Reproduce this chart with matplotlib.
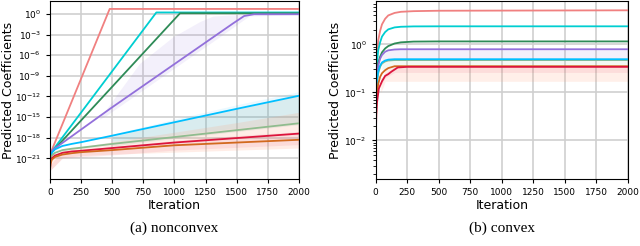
import matplotlib
matplotlib.use("Agg")
import matplotlib.pyplot as plt
import numpy as np

# ---- (a) nonconvex: values as log10 exponents ----
nc_series = {
    "lightcoral": ([0, 5, 15, 480, 2000], [-21.5, -20.6, -19.8, 0.73, 0.73]),
    "darkturquoise": ([0, 5, 15, 855, 2000], [-21.5, -20.6, -20.0, 0.22, 0.22]),
    "seagreen": ([0, 5, 15, 1045, 2000], [-21.6, -20.7, -20.1, 0.10, 0.10]),
    "mediumpurple": ([0, 5, 20, 482, 1473, 1560, 1640, 2000],
                     [-21.6, -20.7, -19.8, -13.8, -1.35, -0.3, -0.04, -0.04]),
    "deepskyblue": ([0, 5, 15, 40, 100, 175, 250, 500, 1000, 1500, 2000],
                    [-21.5, -20.7, -20.2, -19.7, -19.2, -18.9, -18.65, -17.7,
                     -15.75, -13.8, -11.9]),
    "darkseagreen": ([0, 5, 15, 40, 100, 175, 250, 500, 1000, 1500, 2000],
                     [-21.8, -21.0, -20.6, -20.2, -19.8, -19.6, -19.45, -18.9,
                      -17.9, -16.9, -15.9]),
    "crimson": ([0, 5, 15, 40, 100, 175, 250, 500, 1000, 1500, 2000],
                [-22.6, -21.6, -21.0, -20.6, -20.2, -20.0, -19.9, -19.5,
                 -18.7, -18.05, -17.4]),
    "chocolate": ([0, 5, 15, 40, 100, 175, 250, 500, 1000, 1500, 2000],
                  [-22.8, -21.8, -21.2, -20.8, -20.45, -20.25, -20.1, -19.8,
                   -19.1, -18.7, -18.3]),
}
nc_bands = [
    # colour, alpha, iterations, upper exp, lower exp
    ("mediumpurple", 0.10, [400, 450, 720, 990, 1205, 1310, 1600, 2000],
     [-15.0, -13.9, -7.2, -3.3, -1.1, -0.3, 0.0, 0.0],
     [-15.3, -14.8, -11.4, -8.0, -5.3, -4.0, -0.3, -0.1]),
    ("deepskyblue", 0.08, [500, 1000, 1500, 2000],
     [-17.5, -15.3, -13.2, -11.3], [-18.5, -17.6, -16.6, -15.7]),
    ("#5f8f80", 0.12, [500, 1000, 1500, 2000],
     [-17.8, -15.7, -13.8, -11.9], [-19.2, -18.1, -17.1, -16.1]),
    ("lightsalmon", 0.18, [0, 100, 250, 500, 1000, 1500, 2000],
     [-21.3, -19.8, -19.3, -18.6, -17.2, -15.8, -14.3],
     [-22.8, -20.9, -20.6, -20.4, -20.1, -19.8, -19.5]),
    ("crimson", 0.08, [0, 100, 250, 500, 1000, 1500, 2000],
     [-22.0, -19.9, -19.7, -19.3, -18.4, -17.7, -17.1],
     [-22.8, -21.0, -20.8, -20.5, -19.8, -19.4, -19.0]),
]

# ---- (b) convex: plain values ----
cv_it = [0, 5, 10, 20, 35, 50, 75, 100, 150, 200, 300, 500, 2000]
cv_series = {
    "lightcoral": [0.04, 0.3, 0.6, 1.2, 1.9, 2.6, 3.4, 4.0, 4.5, 4.75, 4.9, 5.0, 5.1],
    "darkturquoise": [0.03, 0.2, 0.4, 0.75, 1.1, 1.45, 1.8, 2.05, 2.25, 2.32, 2.36, 2.37, 2.37],
    "seagreen": [0.02, 0.12, 0.25, 0.4, 0.55, 0.68, 0.82, 0.92, 1.04, 1.1, 1.14, 1.15, 1.15],
    "mediumpurple": [0.02, 0.12, 0.22, 0.36, 0.5, 0.6, 0.7, 0.75, 0.78, 0.79, 0.79, 0.79, 0.79],
    "darkseagreen": [0.014, 0.09, 0.16, 0.25, 0.34, 0.4, 0.44, 0.46, 0.47, 0.47, 0.47, 0.47, 0.47],
    "deepskyblue": [0.015, 0.1, 0.18, 0.27, 0.36, 0.42, 0.46, 0.48, 0.49, 0.49, 0.49, 0.49, 0.49],
    "chocolate": [0.01, 0.05, 0.09, 0.15, 0.21, 0.25, 0.29, 0.32, 0.35, 0.35, 0.35, 0.35, 0.35],
}
cv_red_it = [0, 5, 10, 25, 50, 75, 100, 125, 175, 250, 2000]
cv_red = [0.008, 0.035, 0.06, 0.12, 0.17, 0.22, 0.24, 0.27, 0.33, 0.34, 0.34]
cv_bands = [
    ("mediumpurple", 0.10, [50, 100, 150, 2000],
     [0.6, 0.74, 0.78, 0.79], [0.42, 0.47, 0.5, 0.5]),
    ("darkseagreen", 0.10, [50, 100, 150, 2000],
     [0.42, 0.47, 0.49, 0.49], [0.3, 0.33, 0.35, 0.35]),
    ("lightsalmon", 0.16, [40, 60, 75, 150, 2000],
     [0.2, 0.22, 0.3, 0.34, 0.34], [0.1, 0.13, 0.17, 0.17, 0.17]),
    ("crimson", 0.08, [40, 75, 150, 2000],
     [0.18, 0.25, 0.34, 0.34], [0.14, 0.2, 0.26, 0.26]),
]

xticks = [0, 250, 500, 750, 1000, 1250, 1500, 1750, 2000]

fig = plt.figure(figsize=(6.4, 2.46), dpi=100)
ax1 = fig.add_axes([0.078, 0.2736, 0.389, 0.7205])
ax2 = fig.add_axes([0.587, 0.2736, 0.394, 0.7205])

for color, alpha, it, up, lo in nc_bands:
    ax1.fill_between(it, 10.0 ** np.array(lo), 10.0 ** np.array(up),
                     color=color, alpha=alpha, lw=0)
for color, (it, ex) in nc_series.items():
    ax1.plot(it, 10.0 ** np.array(ex), color=color, lw=1.3)

for color, alpha, it, up, lo in cv_bands:
    ax2.fill_between(it, lo, up, color=color, alpha=alpha, lw=0)
for color, val in cv_series.items():
    ax2.plot(cv_it, val, color=color, lw=1.3)
ax2.plot(cv_red_it, cv_red, color="crimson", lw=1.3)

for ax in (ax1, ax2):
    ax.set_yscale("log")
    ax.set_xlim(0, 2000)
    ax.set_xticks(xticks)
    ax.grid(True, color="#cfcfcf", lw=1.2)
    ax.set_axisbelow(True)
    ax.tick_params(labelsize=6.5, length=3, width=0.8)
    ax.set_xlabel("Iteration", fontsize=9, labelpad=2)
    ax.set_ylabel("Predicted Coefficients", fontsize=9)
    for s in ax.spines.values():
        s.set_linewidth(0.8)

# label anchor is its right edge; keep the left one inside the figure
ax1.yaxis.set_label_coords(-0.14, 0.5)
ax2.yaxis.set_label_coords(-0.135, 0.5)

ax1.set_ylim(1.1e-24, 66)
ax1.set_yticks([10.0 ** e for e in range(0, -22, -3)])
ax1.yaxis.set_minor_locator(matplotlib.ticker.NullLocator())
ax2.set_ylim(0.0016, 7.8)
ax2.set_yticks([1, 0.1, 0.01])

fig.text(0.272, 0.073, "(a) nonconvex", family="Liberation Serif", fontsize=11,
         ha="center", va="center")
fig.text(0.784, 0.073, "(b) convex", family="Liberation Serif", fontsize=11,
         ha="center", va="center")

fig.savefig("out.png", dpi=100)
